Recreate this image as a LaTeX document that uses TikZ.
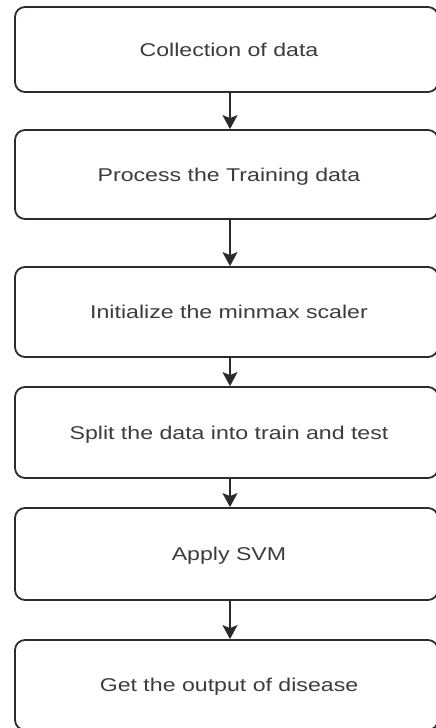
\documentclass[tikz,border=0pt]{standalone}
\usepackage{fontspec}
\setmainfont{Liberation Sans}
\newfontfamily\boxfont[FakeStretch=1.25]{Liberation Sans}
\usetikzlibrary{arrows.meta}
\definecolor{edgec}{HTML}{2B2B2B}
\definecolor{textc}{HTML}{3C3C3C}
\begin{document}
\begin{tikzpicture}[x=1pt,y=-1pt,
  stepbox/.style={draw=edgec, line width=1.8pt, rounded corners=10pt,
    minimum width=423pt, fill=white, text=textc,
    font=\boxfont\fontsize{18.5}{22}\selectfont,
    text height=13.3pt, text depth=0pt, inner sep=0pt},
  arr/.style={draw=edgec, line width=1.8pt,
    -{Stealth[length=14pt,width=15pt,inset=3pt]}}]
\useasboundingbox (0,0) rectangle (436,728);
\node[stepbox, minimum height=85pt] (b1) at (226.5,49.5) {\hspace*{5pt}Collection of data};
\node[stepbox, minimum height=89pt] (b2) at (226.5,174.5) {\hspace*{5pt}Process the Training data};
\node[stepbox, minimum height=90pt] (b3) at (226.5,312) {\hspace*{5pt}Initialize the minmax scaler};
\node[stepbox, minimum height=91pt] (b4) at (226.5,432.5) {\hspace*{5pt}Split the data into train and test};
\node[stepbox, minimum height=92pt] (b5) at (226.5,554) {\hspace*{5pt}Apply SVM};
\node[stepbox, minimum height=90pt] (b6) at (226.5,685) {\hspace*{5pt}Get the output of disease};
\foreach \a/\b in {b1/b2,b2/b3,b3/b4,b4/b5,b5/b6}
  \draw[arr] ([xshift=3.5pt]\a.south) -- ([xshift=3.5pt]\b.north);
\end{tikzpicture}
\end{document}
